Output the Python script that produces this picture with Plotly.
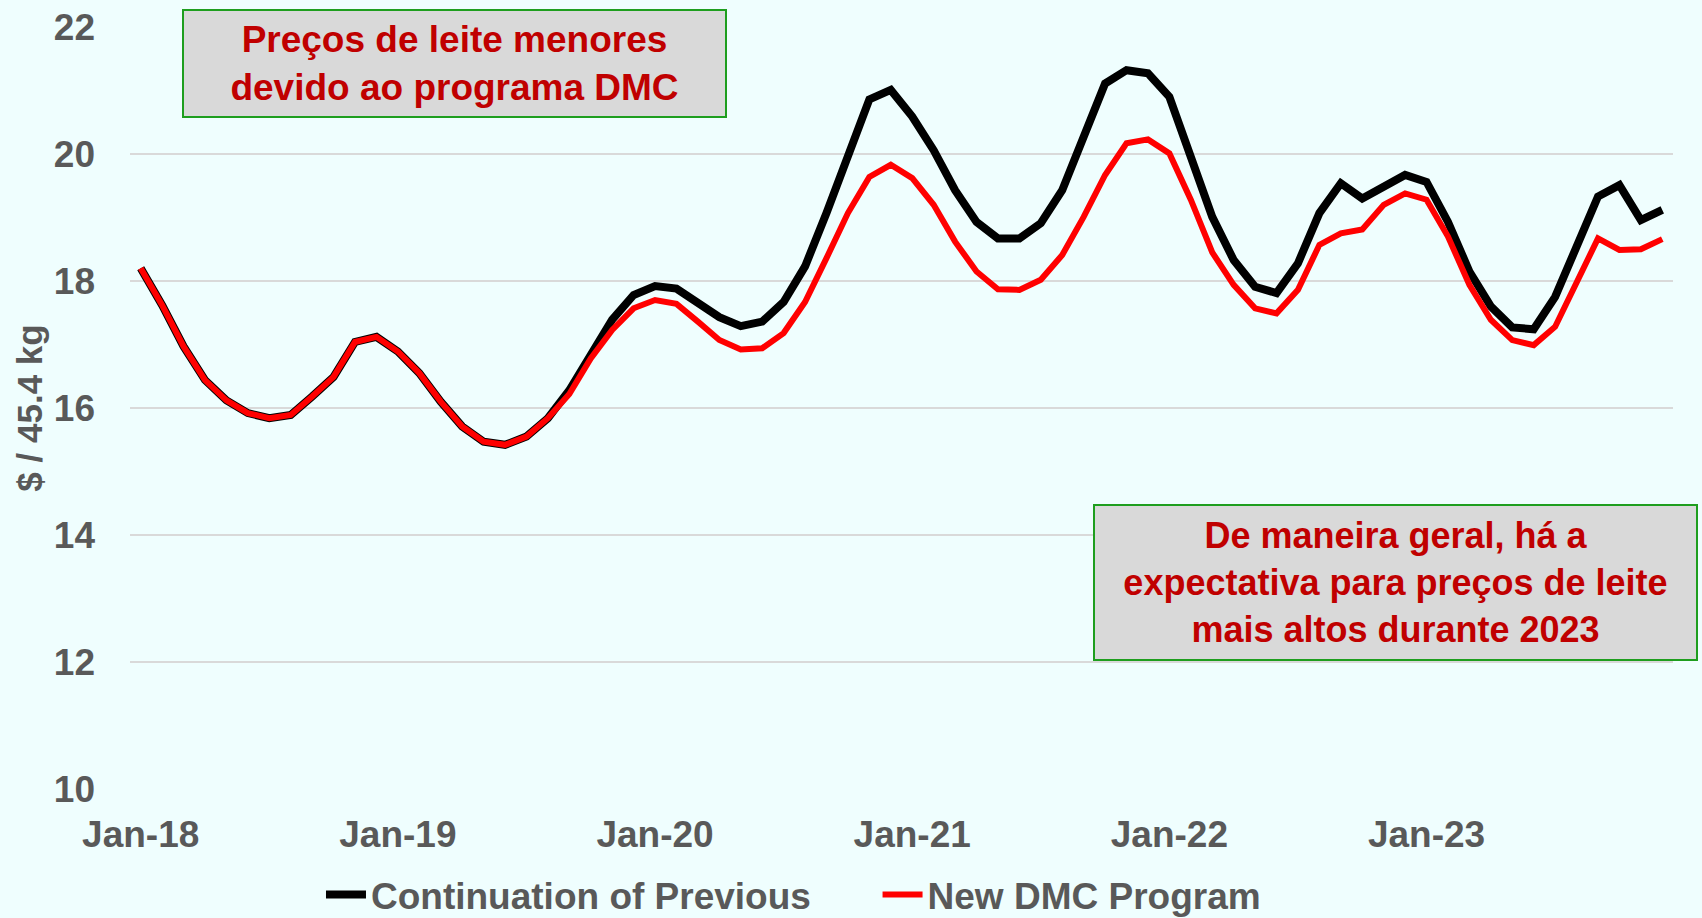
import plotly.graph_objects as go

MONTH_NAMES = ["Jan", "Feb", "Mar", "Apr", "May", "Jun", "Jul", "Aug", "Sep", "Oct", "Nov", "Dec"]
YEARS = ["18", "19", "20", "21", "22", "23"]
months = [f"{m}-{y}" for y in YEARS for m in MONTH_NAMES]

continuation_previous = [
    18.20, 17.62, 16.97, 16.44, 16.12, 15.92, 15.84, 15.89, 16.18, 16.49, 17.04, 17.12,
    16.89, 16.55, 16.10, 15.71, 15.47, 15.42, 15.55, 15.84, 16.28, 16.86, 17.39, 17.78,
    17.92, 17.88, 17.67, 17.43, 17.29, 17.36, 17.67, 18.23, 19.07, 19.96, 20.86, 21.01,
    20.59, 20.06, 19.43, 18.93, 18.67, 18.67, 18.91, 19.43, 20.27, 21.11, 21.32, 21.27,
    20.90, 19.95, 19.01, 18.33, 17.91, 17.81, 18.28, 19.07, 19.54, 19.30, 19.47, 19.67,
    19.56, 18.93, 18.15, 17.60, 17.27, 17.24, 17.75, 18.51, 19.33, 19.51, 18.96, 19.12,
]
new_dmc_program = [
    18.20, 17.62, 16.97, 16.44, 16.12, 15.92, 15.84, 15.89, 16.18, 16.49, 17.04, 17.12,
    16.89, 16.55, 16.10, 15.71, 15.47, 15.42, 15.55, 15.84, 16.22, 16.78, 17.23, 17.57,
    17.70, 17.64, 17.36, 17.07, 16.92, 16.94, 17.18, 17.67, 18.36, 19.07, 19.64, 19.83,
    19.62, 19.20, 18.62, 18.15, 17.87, 17.86, 18.02, 18.41, 19.01, 19.67, 20.17, 20.23,
    20.01, 19.28, 18.45, 17.94, 17.57, 17.49, 17.86, 18.57, 18.75, 18.81, 19.20, 19.38,
    19.28, 18.70, 17.94, 17.39, 17.07, 16.99, 17.28, 17.99, 18.67, 18.49, 18.50, 18.66,
]
x_tick_labels = ["Jan-18", "Jan-19", "Jan-20", "Jan-21", "Jan-22", "Jan-23"]
y_ticks = [10, 12, 14, 16, 18, 20, 22]

note_top = "Preços de leite menores<br>devido ao programa DMC"
note_bottom = "De maneira geral, há a<br>expectativa para preços de leite<br>mais altos durante 2023"

FONT = "Liberation Sans, Arial, sans-serif"
GRAY = "#595959"
BG = "#EFFEFE"
NBSP = "\u00a0"

fig = go.Figure()
fig.add_trace(go.Scatter(
    x=months, y=continuation_previous, mode="lines", name="Continuation of Previous" + NBSP * 6,
    line=dict(color="#000000", width=8),
))
fig.add_trace(go.Scatter(
    x=months, y=new_dmc_program, mode="lines", name="New DMC Program",
    line=dict(color="#FF0000", width=6),
))

fig.update_layout(
    width=1702, height=918,
    margin=dict(l=130, r=29, t=27, b=129, autoexpand=False),
    paper_bgcolor=BG, plot_bgcolor=BG,
    font=dict(family=FONT, size=37, color=GRAY, weight="bold"),
    showlegend=True,
    legend=dict(orientation="h", x=0.43, xanchor="center", y=-0.139, yanchor="middle",
                font=dict(size=37, color=GRAY, family=FONT, weight="bold"),
                bgcolor="rgba(0,0,0,0)", itemwidth=40, tracegroupgap=0),
    xaxis=dict(
        type="category", categoryorder="array", categoryarray=months,
        range=[-0.5, 71.5], tickmode="array", tickvals=x_tick_labels, ticktext=x_tick_labels,
        showgrid=False, zeroline=False, showline=False, ticks="", automargin=False,
        tickfont=dict(size=37, color=GRAY, family=FONT, weight="bold"),
        ticklabelstandoff=20, fixedrange=True,
    ),
    yaxis=dict(
        range=[10, 22], tickvals=y_ticks, showgrid=True, gridcolor="#D9D9D9", gridwidth=2,
        zeroline=False, showline=False, ticks="", automargin=False,
        tickfont=dict(size=37, color=GRAY, family=FONT, weight="bold"),
        ticklabelstandoff=34,
        title=dict(text="$ / 45.4 kg", font=dict(size=35, color=GRAY, family=FONT, weight="bold"), standoff=0),
    ),
    annotations=[
        dict(text=note_top, xref="paper", yref="paper", x=0.21, y=0.952, xanchor="center", yanchor="middle",
             showarrow=False, bgcolor="#D9D9D9", bordercolor="#1E9E1E", borderwidth=2, borderpad=0,
             width=541, height=105, align="center",
             font=dict(size=37, color="#C00000", family=FONT, weight="bold")),
        dict(text=note_bottom, xref="paper", yref="paper", x=0.82, y=0.271, xanchor="center", yanchor="middle",
             showarrow=False, bgcolor="#D9D9D9", bordercolor="#1E9E1E", borderwidth=2, borderpad=0,
             width=601, height=153, align="center",
             font=dict(size=36, color="#C00000", family=FONT, weight="bold")),
    ],
)

fig.write_html(
    "out.html",
    config={"displayModeBar": False},
    post_script="document.body.style.margin='0';document.body.style.background='#EFFEFE';",
)
